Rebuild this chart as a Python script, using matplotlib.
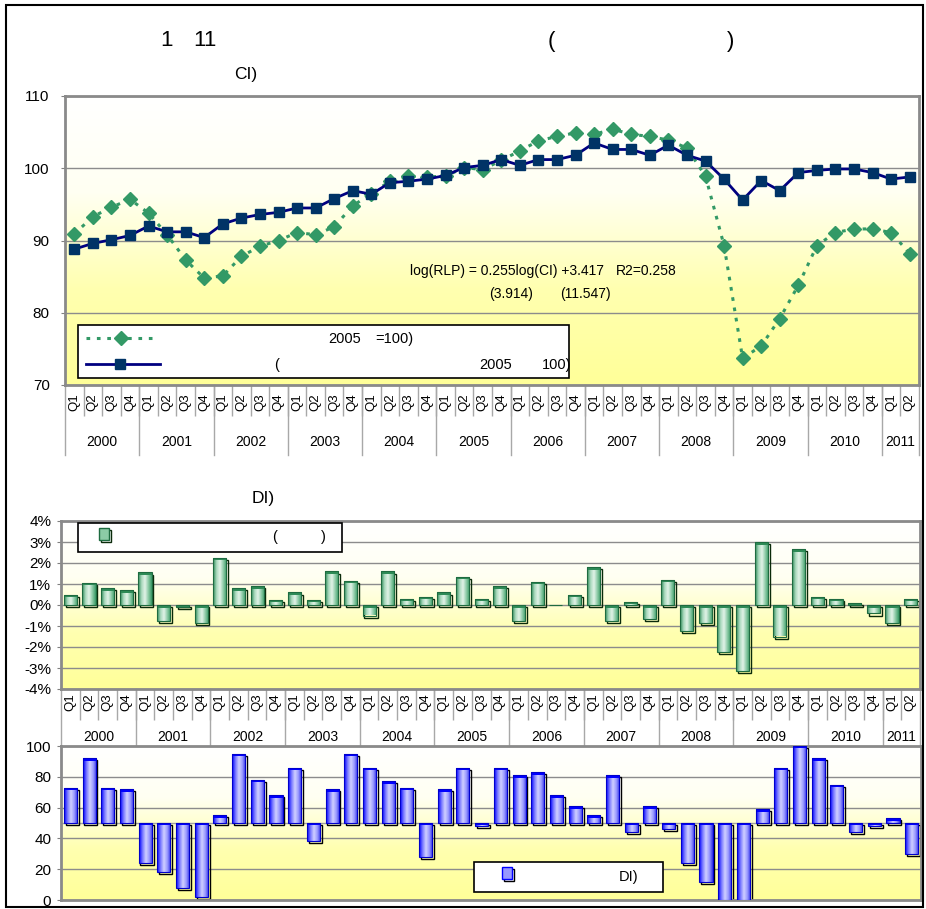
import numpy as np
import matplotlib
matplotlib.use('Agg')
import matplotlib.pyplot as plt
from matplotlib.colors import LinearSegmentedColormap
from matplotlib.patches import Rectangle
from matplotlib.lines import Line2D
from matplotlib.transforms import blended_transform_factory

plt.rcParams['font.family'] = ['Liberation Sans', 'DejaVu Sans']

# --- data (2000Q1 .. 2011Q2) ---
years = ['2000', '2001', '2002', '2003', '2004', '2005', '2006',
         '2007', '2008', '2009', '2010', '2011']
quarters = ['Q1', 'Q2', 'Q3', 'Q4'] * 11 + ['Q1', 'Q2']

ci_values = [90.9, 93.3, 94.6, 95.7, 93.8, 90.8, 87.3, 84.8, 85.1, 87.8, 89.2, 90.0,
             91.1, 90.8, 91.9, 94.8, 96.5, 98.2, 98.9, 98.8, 98.9, 100.1, 99.8, 101.1,
             102.4, 103.8, 104.4, 104.9, 104.7, 105.4, 104.7, 104.4, 103.9, 102.8, 98.9, 89.3,
             73.7, 75.4, 79.2, 83.8, 89.3, 91.1, 91.6, 91.6, 91.1, 88.2]
rlp_values = [88.8, 89.6, 90.1, 90.7, 92.0, 91.2, 91.2, 90.4, 92.3, 93.1, 93.6, 93.9,
              94.5, 94.5, 95.8, 96.9, 96.4, 98.0, 98.2, 98.5, 99.0, 100.1, 100.4, 101.2,
              100.4, 101.2, 101.2, 101.8, 103.5, 102.6, 102.6, 101.8, 103.2, 101.8, 101.0, 98.5,
              95.6, 98.3, 96.9, 99.4, 99.7, 99.9, 99.9, 99.4, 98.5, 98.8]
growth_pct = [0.5, 1.05, 0.8, 0.7, 1.55, -0.75, -0.1, -0.85, 2.25, 0.8, 0.9, 0.25,
              0.6, 0.25, 1.6, 1.15, -0.5, 1.6, 0.3, 0.4, 0.6, 1.35, 0.3, 0.9,
              -0.75, 1.1, 0.0, 0.5, 1.8, -0.75, 0.15, -0.65, 1.2, -1.25, -0.85, -2.25,
              -3.15, 3.0, -1.5, 2.65, 0.4, 0.3, 0.1, -0.4, -0.85, 0.3]
di_values = [73, 92, 73, 72, 24, 18, 8, 2, 55, 95, 78, 68,
             86, 38, 72, 95, 86, 77, 73, 28, 72, 86, 48, 86,
             81, 83, 68, 61, 55, 81, 44, 61, 46, 24, 12, 0,
             0, 59, 86, 100, 92, 75, 44, 48, 53, 30]

W, H = 926, 909
n = len(quarters)
xs = np.arange(n)

fig = plt.figure(figsize=(W / 100, H / 100), dpi=100)


def fx(x):
    return x / W


def fy(y):
    return 1 - y / H


def axes_px(x0, y0, x1, y1):
    return fig.add_axes([fx(x0), fy(y1), (x1 - x0) / W, (y1 - y0) / H])


bg_cmap = LinearSegmentedColormap.from_list('bg', ['#FFFFFF', '#FFFFF2', '#FFFFB0', '#FFFF99'])
GRID = '#8C8C8C'
SEP = '#A8A8A8'


def base_style(ax, ylim, yticks, ylabels, ypad, h_px):
    grad = np.linspace(0, 1, 256)[:, None]
    ax.imshow(grad, cmap=bg_cmap, extent=[0, 1, 0, 1], transform=ax.transAxes,
              aspect='auto', zorder=0)
    ax.set_xlim(-0.5, n - 0.5)
    ax.set_ylim(*ylim)
    ax.set_yticks(yticks)
    ax.set_yticklabels(ylabels)
    ax.yaxis.grid(True, color=GRID, lw=1)
    ax.tick_params(axis='y', length=3, color='#808080', pad=ypad, labelsize=11)
    for s in ax.spines.values():
        s.set_color('#8A8A8A')
        s.set_linewidth(2)


def x_labels(ax, qpad, sep_len, year_line, year_y):
    ax.set_xticks(xs)
    ax.set_xticklabels(quarters, rotation=90)
    ax.tick_params(axis='x', which='major', length=0, pad=qpad, labelsize=9.5)
    ax.set_xticks(xs[:-1] + 0.5, minor=True)
    ax.tick_params(axis='x', which='minor', length=sep_len, color=SEP, width=1)
    tr = blended_transform_factory(ax.transData, ax.transAxes)
    bounds = list(range(-1, n, 4)) + [n - 1]
    for b in bounds:
        ax.plot([b + 0.5, b + 0.5], [0, year_line], transform=tr, color=SEP,
                lw=1, clip_on=False, zorder=1)
    for k, yr in enumerate(years):
        qs = xs[4 * k:4 * k + 4]
        ax.text(qs.mean(), year_y, yr, transform=tr, ha='center', va='center', fontsize=10)


def draw_bars(ax, vals, base, colors, edge, cap_col, shadow_col, dx, dy, cap):
    heights = np.asarray(vals, dtype=float) - base
    width = 0.7
    cmap = LinearSegmentedColormap.from_list('bar', colors)
    grad = np.linspace(0, 1, 64)[None, :]
    for x, h in zip(xs, heights):
        if h == 0:
            continue
        y0 = min(base, base + h)
        ax.add_patch(Rectangle((x - width / 2 + dx, y0 - dy), width, abs(h), fill=False,
                               ec=shadow_col, lw=1, zorder=2))
    bars = ax.bar(xs, heights, width, bottom=base, color='none', edgecolor=edge,
                  lw=0.8, zorder=4)
    for b, h in zip(bars, heights):
        if h == 0:
            continue
        x0 = b.get_x()
        lo, hi = min(base, base + h), max(base, base + h)
        im = ax.imshow(grad, cmap=cmap, extent=[x0, x0 + width, lo, hi],
                       aspect='auto', zorder=3)
        im.set_clip_path(b)
        ax.add_patch(Rectangle((x0, hi - min(cap, hi - lo)), width, min(cap, hi - lo),
                               color=cap_col, lw=0, zorder=3.5))


# --- top: line chart ---
ax1 = axes_px(65, 96, 919, 385)
base_style(ax1, (70, 110), [70, 80, 90, 100, 110], ['70', '80', '90', '100', '110'], 8, 289)
ax1.plot(xs, ci_values, color='#339966', ls=(0, (1.2, 2.2)), lw=2.2, marker='D', ms=7,
         mfc='#339966', mec='#339966', zorder=3)
ax1.plot(xs, rlp_values, color='#000080', lw=2, marker='s', ms=6.5,
         mfc='#003366', mec='#003366', zorder=4)
ax1.set_xlim(-0.5, n - 0.5)
ax1.set_ylim(70, 110)
x_labels(ax1, 6, 22, -0.242, -0.197)
ax1.text(fx(410) / 1, fy(271), 'log(RLP) = 0.255log(CI) +3.417', transform=fig.transFigure,
         fontsize=10, va='center', ha='left')
ax1.text(fx(616), fy(271), 'R2=0.258', transform=fig.transFigure,
         fontsize=10, va='center', ha='left')
ax1.text(fx(489), fy(294), '(3.914)', transform=fig.transFigure,
         fontsize=10, va='center', ha='left')
ax1.text(fx(560), fy(294), '(11.547)', transform=fig.transFigure,
         fontsize=10, va='center', ha='left')

# --- middle: growth bars ---
ax2 = axes_px(61, 521, 920, 689)
pct_ticks = list(range(-4, 5))
base_style(ax2, (-4, 4), pct_ticks, ['%d%%' % t for t in pct_ticks], 4, 168)
draw_bars(ax2, growth_pct, 0, ['#2E8B57', '#A8D8BC', '#E2F3E8', '#8CCBA6', '#3A9A66'],
          '#1E6B40', '#2E8B57', '#0A2A0A', 0.1, 0.1, 0.12)
ax2.set_xlim(-0.5, n - 0.5)
ax2.set_ylim(-4, 4)
x_labels(ax2, 3, 22, -0.333, -0.286)

# --- bottom: DI bars ---
ax3 = axes_px(61, 746, 921, 900)
base_style(ax3, (0, 100), [0, 20, 40, 60, 80, 100],
           ['0', '20', '40', '60', '80', '100'], 4, 154)
ax3.axhline(50, color='#A0A0A0', lw=1, zorder=1.6)
draw_bars(ax3, di_values, 50, ['#0000FF', '#7878FF', '#D0D0FF', '#9898FF', '#3030E8'],
          '#0000CC', '#0000FF', '#000000', 0.1, 1.3, 1.6)
ax3.set_xlim(-0.5, n - 0.5)
ax3.set_ylim(0, 100)
ax3.set_xticks([])

# --- titles ---
for x, s in [(160, '1'), (193, '11'), (548, '('), (727, ')')]:
    fig.text(fx(x), fy(41), s, fontsize=16, va='center', ha='left')
fig.text(fx(234), fy(75), 'CI)', fontsize=12.5, va='center', ha='left')
fig.text(fx(252), fy(499), 'DI)', fontsize=12.5, va='center', ha='left')


# --- legends (drawn by hand) ---
def box(x0, y0, x1, y1):
    fig.add_artist(Rectangle((fx(x0), fy(y1)), (x1 - x0) / W, (y1 - y0) / H,
                             transform=fig.transFigure, fc='white', ec='black',
                             lw=1.2, zorder=6))


box(78, 325, 569, 378)
fig.add_artist(Line2D([fx(86), fx(158)], [fy(338)] * 2, transform=fig.transFigure,
                      color='#339966', ls=(0, (1.2, 2.2)), lw=2.2, zorder=7))
fig.add_artist(Line2D([fx(121)], [fy(338)], transform=fig.transFigure, marker='D', ms=7,
                      mfc='#339966', mec='#339966', zorder=7))
fig.add_artist(Line2D([fx(86), fx(160)], [fy(364)] * 2, transform=fig.transFigure,
                      color='#000080', lw=2, zorder=7))
fig.add_artist(Line2D([fx(120)], [fy(364)], transform=fig.transFigure, marker='s', ms=6.5,
                      mfc='#003366', mec='#003366', zorder=7))
for x, y, s in [(328, 339, '2005'), (375, 339, '=100)'),
                (274, 365, '('), (479, 365, '2005'), (542, 365, '100)')]:
    fig.text(fx(x), fy(y), s, fontsize=10.5, va='center', ha='left', zorder=8)

box(78, 523, 342, 552)
fig.add_artist(Rectangle((fx(101), fy(542)), 10 / W, 12 / H, transform=fig.transFigure,
                         fill=False, ec='#0A2A0A', lw=1, zorder=7))
fig.add_artist(Rectangle((fx(99), fy(540)), 10 / W, 12 / H, transform=fig.transFigure,
                         fc='#8CCBA6', ec='#1E6B40', lw=1, zorder=7))
fig.text(fx(272), fy(537), '(', fontsize=10.5, va='center', ha='left', zorder=8)
fig.text(fx(321), fy(537), ')', fontsize=10.5, va='center', ha='left', zorder=8)

box(474, 862, 663, 892)
fig.add_artist(Rectangle((fx(504), fy(881)), 10 / W, 12 / H, transform=fig.transFigure,
                         fill=False, ec='black', lw=1, zorder=7))
fig.add_artist(Rectangle((fx(502), fy(879)), 10 / W, 12 / H, transform=fig.transFigure,
                         fc='#9898FF', ec='#0000FF', lw=1, zorder=7))
fig.text(fx(619), fy(877), 'DI)', fontsize=10.5, va='center', ha='left', zorder=8)

# outer frame
fig.add_artist(Rectangle((fx(6), fy(907)), (923 - 6) / W, (907 - 5) / H,
                         transform=fig.transFigure, fill=False, ec='black', lw=1.5, zorder=10))

fig.savefig('out.png', dpi=100)
